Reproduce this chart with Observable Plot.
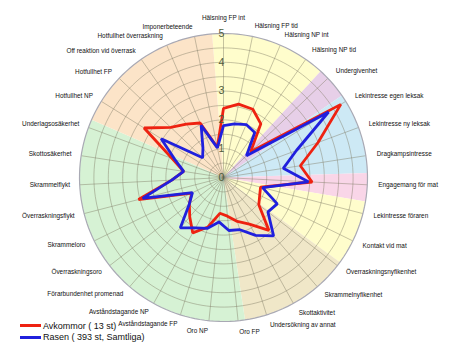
<!DOCTYPE html>
<html><head><meta charset="utf-8">
<script src="https://cdn.jsdelivr.net/npm/d3@7"></script>
<script src="https://cdn.jsdelivr.net/npm/@observablehq/plot@0.6"></script>
<style>
body{margin:0;background:#fff;font-family:"Liberation Sans",Arial,sans-serif;}
#wrap{position:relative;width:450px;height:360px;overflow:hidden;}
#legend{position:absolute;left:20px;top:320px;font-size:9px;color:#111;line-height:12px;}
#legend .row{display:flex;align-items:center;height:11.5px;}
#legend .sw{display:inline-block;width:21px;height:3px;margin-right:2px;}
</style></head><body>
<div id="wrap"><div id="chart"></div><div id="legend"></div></div>
<script>
const axes = ["Hälsning FP int","Hälsning FP tid","Hälsning NP int","Hälsning NP tid","Undergivenhet",
  "Lekintresse egen leksak","Lekintresse ny leksak","Dragkampsintresse","Engagemang för mat","Lekintresse föraren",
  "Kontakt vid mat","Överraskningsnyfikenhet","Skrammelnyfikenhet","Skottaktivitet","Undersökning av annat",
  "Oro FP","Oro NP","Avståndstagande FP","Avståndstagande NP","Förarbundenhet promenad",
  "Överraskningsoro","Skrammeloro","Överraskningsflykt","Skrammelflykt","Skottosäkerhet",
  "Underlagsosäkerhet","Hotfullhet NP","Hotfullhet FP","Off reaktion vid överrask","Hotfullhet överraskning",
  "Imponerbeteende"];
const avkommor = [2.4,2.6,2.58,2.27,1.3,4.8,3.5,2.7,3.08,1.33,1.4,1.55,2.42,1.85,1.6,1.35,1.25,1.8,2.2,1.8,1.5,1.23,3.05,1.8,1.4,1.9,3.25,2.53,2.26,2.06,1.07];
const rasen     = [1.8,1.9,2.0,1.9,1.1,4.3,2.7,2.1,2.95,1.4,2.08,1.95,2.67,2.3,1.9,1.85,1.55,1.85,2.0,2.3,1.5,1.2,2.9,1.8,1.4,1.8,2.55,1.0,1.25,1.97,1.05];
const seriesNames = ["Avkommor ( 13 st)", "Rasen ( 393 st, Samtliga)"];
const seriesColors = ["#ee2211", "#2020dd"];
const tickValues = [0,1,2,3,4,5];
const ringValues = [0.5,1,1.5,2,2.5,3,3.5,4,4.5,5];
// background sectors, in axis-index units
const sectorStart = [-0.39, 3.65, 4.76, 7.6, 8.58, 10.85, 14.76, 25.29];
const sectorEnd   = [3.65, 4.76, 7.6, 8.58, 10.85, 14.76, 25.29, 30.61];
const sectorColors = ["#fffdcc","#e7cfe8","#cde9f5","#f9d6e8","#fffdcc","#f0e7c8","#d6f2d4","#fce4c8"];

const N = axes.length, S = 0.1, MAX = 5;
const theta = i => i * 360 / N;
const lon = i => 180 - theta(i);
const lat = v => 90 - v * S;

// layout: polar centre and outer radius in pixels; the projection domain is the whole SVG
const W = 450, H = 360, CX = 223, CY = 177, RPX = 144;
const pxToGeo = (dx, dy) => {
  const a = Math.atan2(dx, -dy) * 180 / Math.PI;
  const r = Math.hypot(dx, dy) / RPX * MAX;
  return [180 - a, lat(r)];
};
const frameDomain = {type: "MultiPoint", coordinates: [pxToGeo(-CX, -CY), pxToGeo(W - CX, H - CY)]};

const rows = (vals, name) => vals.map((v, i) => ({i, value: v, series: name}));
const sectors = sectorStart.map((s, k) => ({start: s, end: sectorEnd[k], color: sectorColors[k]}));
const wedge = d => {
  const pts = [[0, 90]];
  const steps = Math.ceil((d.end - d.start) * 8);
  for (let j = 0; j <= steps; j++) {
    const t = d.start + (d.end - d.start) * j / steps;
    pts.push([180 - t * 360 / N, lat(MAX)]);
  }
  pts.push([0, 90]);
  return {type: "Polygon", coordinates: [pts]};
};
const idx = d3.range(N);
const rightIdx = idx.filter(i => i >= 1 && i <= 15);
const leftIdx = idx.filter(i => i >= 16);
const font = "Liberation Sans, Arial, sans-serif";
const circle = r => d3.geoCircle().center([0, 90]).radius(r * S).precision(2)();

const chart = Plot.plot({
  width: W, height: H,
  margin: 0,
  projection: {type: "azimuthal-equidistant", rotate: [0, -90], domain: frameDomain},
  color: {type: "identity"},
  style: {fontFamily: font, background: "white", overflow: "visible"},
  marks: [
    Plot.geo(sectors, {geometry: wedge, fill: d => d.color, stroke: "none"}),
    Plot.geo(ringValues.slice(0, -1), {geometry: circle, fill: "none", stroke: "#807d66", strokeOpacity: 0.45, strokeWidth: 1}),
    Plot.link(idx, {x1: lon, y1: lat(MAX), x2: 0, y2: 90, stroke: "#807d66", strokeOpacity: 0.45, strokeWidth: 1}),
    Plot.geo([MAX], {geometry: circle, fill: "none", stroke: "#a9a9b4", strokeWidth: 1.2}),
    Plot.line(rows(avkommor, seriesNames[0]), {x: d => lon(d.i), y: d => lat(d.value), curve: "linear-closed", stroke: seriesColors[0], strokeWidth: 2.8, strokeLinejoin: "miter"}),
    Plot.line(rows(rasen, seriesNames[1]), {x: d => lon(d.i), y: d => lat(d.value), curve: "linear-closed", stroke: seriesColors[1], strokeWidth: 2.8, strokeLinejoin: "miter"}),
    Plot.text(tickValues, {x: 180, y: d => lat(d), text: d => String(d), dx: -2, fontSize: 10.5, fill: "#4f5d3c"}),
    Plot.text([0], {x: lon, y: lat(5.55), text: i => axes[i], textAnchor: "middle", fontSize: 6.4, fill: "#111"}),
    Plot.text(rightIdx, {x: lon, y: lat(5.38), text: i => axes[i], textAnchor: "start", fontSize: 6.4, fill: "#111"}),
    Plot.text(leftIdx, {x: lon, y: lat(5.34), text: i => axes[i], textAnchor: "end", fontSize: 6.4, fill: "#111"})
  ]
});
document.getElementById("chart").appendChild(chart);

const legend = document.getElementById("legend");
seriesNames.forEach((n, k) => {
  const row = document.createElement("div");
  row.className = "row";
  const sw = document.createElement("span");
  sw.className = "sw";
  sw.style.background = seriesColors[k];
  row.appendChild(sw);
  row.appendChild(document.createTextNode(n));
  legend.appendChild(row);
});
</script>
</body></html>
